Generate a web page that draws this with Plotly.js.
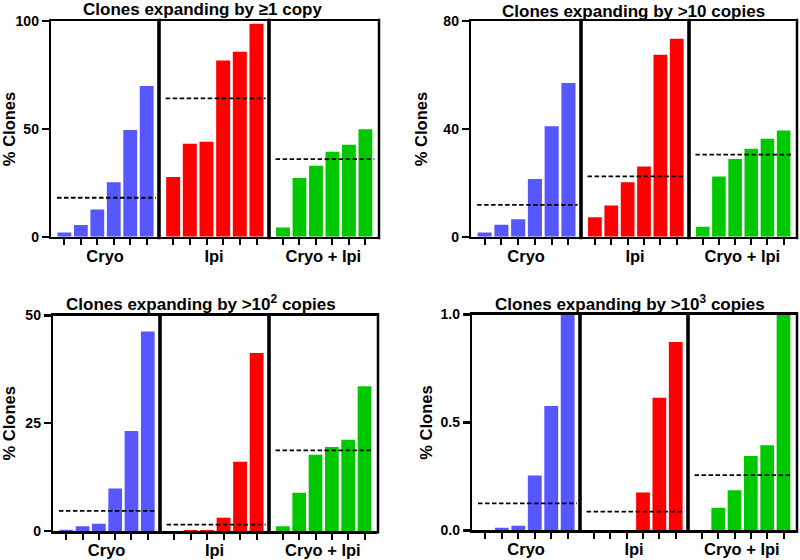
<!DOCTYPE html>
<html>
<head>
<meta charset="utf-8">
<script src="https://cdn.plot.ly/plotly-3.0.1.min.js"></script>
<style>html,body{margin:0;padding:0;background:#fff;}#chart{width:800px;height:560px;}</style>
</head>
<body>
<div id="chart"></div>
<script>
// ---- data ----
const groups = ['Cryo', 'Ipi', 'Cryo + Ipi'];
const samples = ['S1', 'S2', 'S3', 'S4', 'S5', 'S6'];
const panelTitles = [
  'Clones expanding by ≥1 copy',
  'Clones expanding by >10 copies',
  'Clones expanding by >10<sup>2</sup> copies',
  'Clones expanding by >10<sup>3</sup> copies'
];
const yTitle = '% Clones';

// panel 1: >=1 copy
const p1Cryo  = [2.0, 5.4, 12.7, 25.3, 49.5, 70.0];
const p1Ipi   = [27.7, 43.2, 44.1, 81.8, 85.8, 98.8];
const p1Combo = [4.3, 27.3, 32.9, 39.5, 42.7, 49.9];
const p1Median = [18.1, 64.2, 36.0];

// panel 2: >10 copies
const p2Cryo  = [1.6, 4.5, 6.5, 21.4, 41.0, 57.1];
const p2Ipi   = [7.2, 11.6, 20.2, 26.1, 67.6, 73.5];
const p2Combo = [3.7, 22.4, 28.9, 32.7, 36.4, 39.4];
const p2Median = [11.8, 22.4, 30.5];

// panel 3: >10^2 copies
const p3Cryo  = [0.3, 1.1, 1.7, 9.9, 23.2, 46.3];
const p3Ipi   = [0, 0.25, 0.25, 3.1, 16.1, 41.3];
const p3Combo = [1.1, 8.9, 17.7, 19.5, 21.2, 33.6];
const p3Median = [4.7, 1.5, 18.7];

// panel 4: >10^3 copies
const p4Cryo  = [0, 0.013, 0.022, 0.255, 0.576, 1.0];
const p4Ipi   = [0, 0, 0, 0.176, 0.615, 0.873];
const p4Combo = [0, 0.105, 0.186, 0.345, 0.395, 1.0];
const p4Median = [0.125, 0.087, 0.256];

const yRanges = [[0, 100], [0, 80], [0, 50], [0, 1]];
const yTickVals = [[0, 50, 100], [0, 40, 80], [0, 25, 50], [0, 0.5, 1.0]];
const yTickFmt = ['d', 'd', 'd', '.1f'];

const panelData = [
  [p1Cryo, p1Ipi, p1Combo],
  [p2Cryo, p2Ipi, p2Combo],
  [p3Cryo, p3Ipi, p3Combo],
  [p4Cryo, p4Ipi, p4Combo]
];
const panelMedians = [p1Median, p2Median, p3Median, p4Median];

// ---- styling / layout geometry (pixels) ----
const W = 800, H = 560;
const LW = 2.5;     // outer frame
const SW = 3.6;     // group separators
const colors = ['#5757FF', '#FF0000', '#00C800'];
const FONT = 'Liberation Sans, Arial, Helvetica, sans-serif';
// xs = centres of the vertical frame lines (left, separator, separator, right)
const geom = [
  {xs: [50, 159, 269, 379], top: 20, bot: 238, tx: 202, ty: 9.5, ytStand: 1},
  {xs: [470, 581, 689, 797], top: 20, bot: 238, tx: 633, ty: 11.5, ytStand: 12},
  {xs: [52, 160, 269, 378], top: 314.3, bot: 532.3, tx: 201, ty: 303, ytStand: 7},
  {xs: [471, 580, 688, 797], top: 313.3, bot: 531.7, tx: 630, ty: 303, ytStand: 4}
];

const traces = [];
const layout = {
  width: W, height: H,
  margin: {l: 0, r: 0, t: 0, b: 0},
  paper_bgcolor: '#fff', plot_bgcolor: 'rgba(0,0,0,0)',
  showlegend: false,
  bargap: 0.16,
  font: {family: FONT, color: '#000'},
  shapes: [], annotations: []
};

for (let p = 0; p < 4; p++) {
  const g = geom[p];
  const yName = 'yaxis' + (p + 1);
  const yRef = 'y' + (p + 1);
  const plotH = g.bot - g.top - LW;
  layout[yName] = {
    domain: [1 - (g.bot - LW / 2) / H, 1 - (g.top + LW / 2) / H],
    anchor: 'x' + (p * 3 + 1),
    range: yRanges[p],
    tickvals: yTickVals[p],
    tickformat: yTickFmt[p],
    showgrid: false, zeroline: false,
    showline: true, linecolor: '#000', linewidth: LW, mirror: false,
    ticks: 'outside', ticklen: 7, tickwidth: 2.2, tickcolor: '#000',
    tickfont: {family: FONT, size: 14, weight: 'bold', color: '#000'},
    automargin: false,
    title: {text: yTitle, standoff: g.ytStand, font: {family: FONT, size: 16.5, weight: 'bold', color: '#000'}}
  };
  // vertical frame lines: group separators and right border
  for (let s = 1; s <= 3; s++) {
    layout.shapes.push({
      type: 'line', xref: 'paper', yref: yRef + ' domain',
      x0: g.xs[s] / W, x1: g.xs[s] / W,
      y0: -LW / plotH, y1: 1 + LW / plotH,
      line: {color: '#000', width: s < 3 ? SW : LW}, layer: 'above'
    });
  }
  for (let k = 0; k < 3; k++) {
    const idx = p * 3 + k + 1;
    const xName = 'xaxis' + idx;
    const xRef = 'x' + idx;
    const left = k === 0 ? g.xs[0] + LW / 2 : g.xs[k];
    const right = k === 2 ? g.xs[3] - LW / 2 : g.xs[k + 1];
    layout[xName] = {
      domain: [left / W, right / W],
      anchor: yRef,
      type: 'category',
      categoryorder: 'array', categoryarray: samples,
      range: k === 0 ? [-0.8, 5.75] : [-0.85, 5.75],
      showgrid: false, zeroline: false,
      showline: true, linecolor: '#000', linewidth: LW, mirror: true,
      ticks: 'outside', ticklen: 6, tickwidth: 2, tickcolor: '#000',
      showticklabels: false,
      automargin: false,
      title: {text: groups[k], standoff: 6, font: {family: FONT, size: 16.5, weight: 'bold', color: '#000'}}
    };
    traces.push({
      type: 'bar', x: samples, y: panelData[p][k],
      xaxis: xRef, yaxis: yRef,
      marker: {color: colors[k], line: {width: 0}},
      hoverinfo: 'y'
    });
    layout.shapes.push({
      type: 'line', xref: xRef, yref: yRef,
      x0: -0.45, x1: 5.55, y0: panelMedians[p][k], y1: panelMedians[p][k],
      line: {color: '#000', width: 1.8, dash: '4.5px,2.5px'}, layer: 'above'
    });
  }
  layout.annotations.push({
    xref: 'paper', yref: 'paper', x: g.tx / W, y: 1 - g.ty / H,
    xanchor: 'center', yanchor: 'middle', showarrow: false,
    text: panelTitles[p],
    font: {family: FONT, size: 17, weight: 'bold', color: '#000'}
  });
}

Plotly.newPlot('chart', traces, layout, {displayModeBar: false, staticPlot: true});
</script>
</body>
</html>
